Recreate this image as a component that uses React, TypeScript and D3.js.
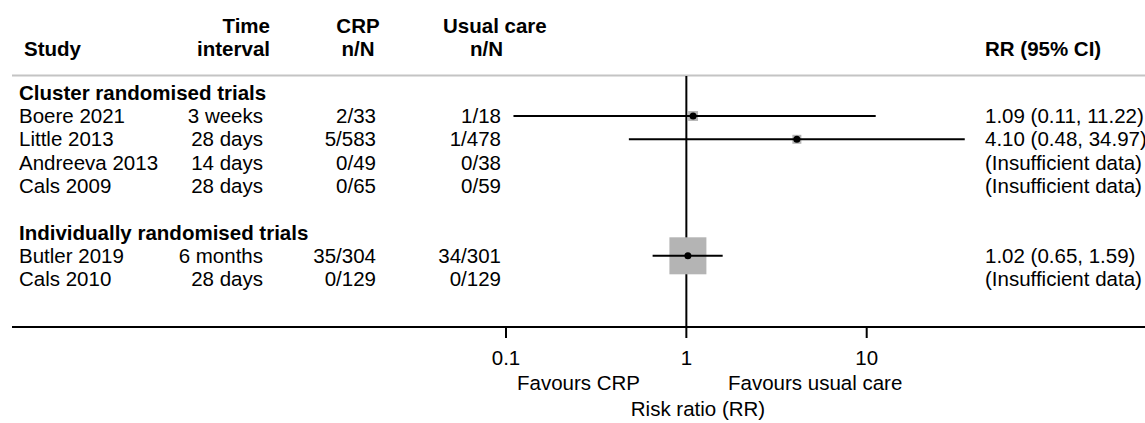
import React, { useEffect, useRef } from 'react';
import * as d3 from 'd3';

// study rows (null = no estimate)
const groups = ['Cluster randomised trials', 'Individually randomised trials'];
const studies = ['Boere 2021', 'Little 2013', 'Andreeva 2013', 'Cals 2009', 'Butler 2019', 'Cals 2010'];
const studyGroup = [0, 0, 0, 0, 1, 1];
const intervals = ['3 weeks', '28 days', '14 days', '28 days', '6 months', '28 days'];
const crpCounts = ['2/33', '5/583', '0/49', '0/65', '35/304', '0/129'];
const usualCounts = ['1/18', '1/478', '0/38', '0/59', '34/301', '0/129'];
const rr = [1.09, 4.1, null, null, 1.02, null];
const rrLow = [0.11, 0.48, null, null, 0.65, null];
const rrHigh = [11.22, 34.97, null, null, 1.59, null];
const weights = [6.3, 5.2, 0, 0, 88.5, 0];
const tickValues = [0.1, 1, 10];

export default function ForestPlot() {
  const ref = useRef<SVGSVGElement>(null);

  useEffect(() => {
    const width = 1145;
    const height = 423;
    const font = 'Liberation Sans, Arial, sans-serif';
    const svg = d3.select(ref.current).attr('viewBox', [0, 0, width, height]);
    svg.selectAll('*').remove();

    const x = d3.scaleLog().domain([0.1, 10]).range([506, 866.7]);
    const size = d3.scaleSqrt().domain([0, d3.max(weights) as number]).range([0, 37]);

    // layout rows: group header, studies, blank, group header, studies
    const rows: { kind: string; i: number }[] = [];
    groups.forEach((g, gi) => {
      if (gi > 0) rows.push({ kind: 'blank', i: -1 });
      rows.push({ kind: 'group', i: gi });
      studies.forEach((s, si) => {
        if (studyGroup[si] === gi) rows.push({ kind: 'study', i: si });
      });
    });
    const y = d3.scaleLinear().domain([0, 1]).range([92.7, 116]);

    const g = svg.append('g').attr('font-family', font).attr('font-size', 20.5).attr('fill', '#000');

    // header
    const head = g.append('g').attr('font-weight', 'bold');
    head.append('text').attr('x', 24).attr('y', 56).text('Study');
    head.append('text').attr('x', 270).attr('y', 33).attr('text-anchor', 'end').text('Time');
    head.append('text').attr('x', 270).attr('y', 56).attr('text-anchor', 'end').text('interval');
    head.append('text').attr('x', 358).attr('y', 33).attr('text-anchor', 'middle').text('CRP');
    head.append('text').attr('x', 358).attr('y', 56).attr('text-anchor', 'middle').text('n/N');
    head.append('text').attr('x', 443).attr('y', 33).text('Usual care');
    head.append('text').attr('x', 470).attr('y', 56).text('n/N');
    head.append('text').attr('x', 985).attr('y', 56).text('RR (95% CI)');

    svg.append('line').attr('x1', 12).attr('x2', width).attr('y1', 75.5).attr('y2', 75.5)
      .attr('stroke', '#c4c4c4').attr('stroke-width', 2);

    // null line
    svg.append('line').attr('x1', x(1)).attr('x2', x(1)).attr('y1', 76).attr('y2', 327)
      .attr('stroke', '#000').attr('stroke-width', 2);

    rows.forEach((r, k) => {
      const cy = y(k);
      const by = cy + 7;
      if (r.kind === 'group') {
        g.append('text').attr('x', 19).attr('y', by).attr('font-weight', 'bold').text(groups[r.i]);
      } else if (r.kind === 'study') {
        const i = r.i;
        g.append('text').attr('x', 19).attr('y', by).text(studies[i]);
        g.append('text').attr('x', 263).attr('y', by).attr('text-anchor', 'end').text(intervals[i]);
        g.append('text').attr('x', 376).attr('y', by).attr('text-anchor', 'end').text(crpCounts[i]);
        g.append('text').attr('x', 501).attr('y', by).attr('text-anchor', 'end').text(usualCounts[i]);
        const est = rr[i];
        if (est == null) {
          g.append('text').attr('x', 985).attr('y', by).text('(Insufficient data)');
        } else {
          const lo = rrLow[i] as number;
          const hi = rrHigh[i] as number;
          g.append('text').attr('x', 985).attr('y', by)
            .text(`${est.toFixed(2)} (${lo.toFixed(2)}, ${hi.toFixed(2)})`);
          const s = size(weights[i]);
          svg.append('rect').attr('x', x(est) - s / 2).attr('y', cy - s / 2)
            .attr('width', s).attr('height', s).attr('fill', '#b4b4b4');
          svg.append('line').attr('x1', x(lo)).attr('x2', x(hi)).attr('y1', cy).attr('y2', cy)
            .attr('stroke', '#000').attr('stroke-width', 2);
          svg.append('circle').attr('cx', x(est)).attr('cy', cy).attr('r', 3.5).attr('fill', '#000');
        }
      }
    });

    // x axis
    const axisY = 327;
    svg.append('line').attr('x1', 12).attr('x2', width).attr('y1', axisY).attr('y2', axisY)
      .attr('stroke', '#000').attr('stroke-width', 2);
    tickValues.forEach((t) => {
      svg.append('line').attr('x1', x(t)).attr('x2', x(t)).attr('y1', axisY).attr('y2', axisY + 11)
        .attr('stroke', '#000').attr('stroke-width', 2);
      g.append('text').attr('x', x(t)).attr('y', 365).attr('text-anchor', 'middle').text(String(t));
    });
    g.append('text').attr('x', 640).attr('y', 390).attr('text-anchor', 'end').text('Favours CRP');
    g.append('text').attr('x', 728).attr('y', 390).text('Favours usual care');
    g.append('text').attr('x', 698).attr('y', 416).attr('text-anchor', 'middle').text('Risk ratio (RR)');
  }, []);

  return (
    <svg
      ref={ref}
      width={1145}
      height={423}
      style={{ position: 'absolute', left: 0, top: 0, background: '#fff' }}
    />
  );
}
